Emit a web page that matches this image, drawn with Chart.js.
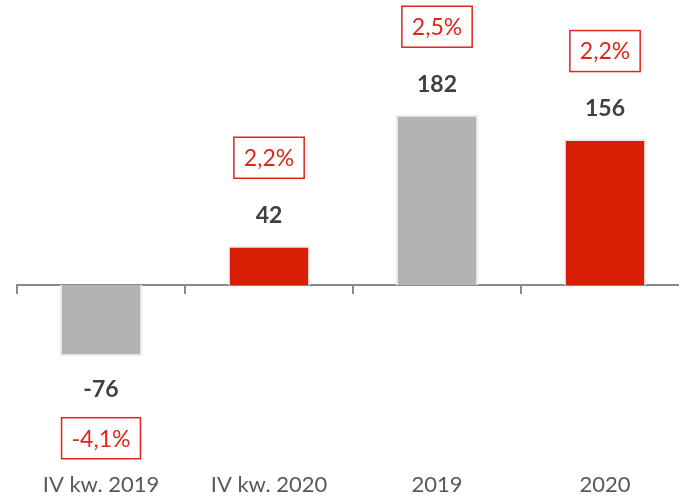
<!DOCTYPE html>
<html>
<head>
<meta charset="utf-8">
<script src="https://cdn.jsdelivr.net/npm/chart.js@4/dist/chart.umd.min.js"></script>
<style>
  html, body { margin: 0; padding: 0; overflow: hidden; background: #fff; }
</style>
</head>
<body>
<canvas id="c" width="700" height="498"></canvas>
<script>
const CATEGORIES = ['IV kw. 2019', 'IV kw. 2020', '2019', '2020'];
const VALUES = [-76, 42, 182, 156];
const CHANGE_LABELS = ['-4,1%', '2,2%', '2,5%', '2,2%'];

const GRAY = '#b2b2b2', RED = '#d81e05', BOX_RED = '#e0261a';
const BAR_COLORS = [GRAY, RED, GRAY, RED];
const FONT = 'Lato';

// value labels + boxed change labels at the end of each bar
const barLabels = {
  id: 'barLabels',
  afterDatasetsDraw(chart) {
    const ctx = chart.ctx;
    chart.getDatasetMeta(0).data.forEach((bar, i) => {
      const v = VALUES[i];
      const up = v >= 0;
      ctx.save();
      ctx.textAlign = 'center';
      ctx.textBaseline = 'middle';
      ctx.font = 'bold 23px ' + FONT;
      ctx.fillStyle = '#404040';
      ctx.fillText(String(v), bar.x, up ? bar.y - 30 : bar.y + 33);

      const t = CHANGE_LABELS[i];
      ctx.font = '23px ' + FONT;
      const w = ctx.measureText(t).width + 20, h = 41;
      const cy = up ? bar.y - 88 : bar.y + 82;
      ctx.strokeStyle = BOX_RED;
      ctx.lineWidth = 1.5;
      ctx.strokeRect(bar.x - w / 2, cy - h / 2, w, h);
      ctx.fillStyle = BOX_RED;
      ctx.fillText(t, bar.x, cy + 1);
      ctx.restore();
    });
  }
};

new Chart(document.getElementById('c'), {
  type: 'bar',
  data: {
    labels: CATEGORIES,
    datasets: [{
      data: VALUES,
      backgroundColor: BAR_COLORS,
      borderColor: '#e6eef3',
      borderWidth: 2,
      barPercentage: 0.49,
      categoryPercentage: 1
    }]
  },
  options: {
    responsive: false,
    animation: false,
    layout: { padding: { left: 17, right: 11, top: 23, bottom: 0 } },
    plugins: { legend: { display: false }, tooltip: { enabled: false } },
    scales: {
      x: {
        position: 'bottom',
        offset: true,
        grid: { display: false },
        border: { display: false },
        ticks: { font: { family: FONT, size: 22, lineHeight: 0.6 }, color: '#595959', padding: 6, maxRotation: 0, autoSkip: false }
      },
      x2: {
        type: 'category',
        position: { y: 0 },
        offset: true,
        grid: { offset: true, drawOnChartArea: false, drawTicks: true, tickLength: 8, color: '#898989', lineWidth: 2 },
        border: { color: '#898989', width: 2 },
        ticks: { display: false }
      },
      y: { display: false, min: -192, max: 280 }
    }
  },
  plugins: [barLabels]
});
</script>
</body>
</html>
